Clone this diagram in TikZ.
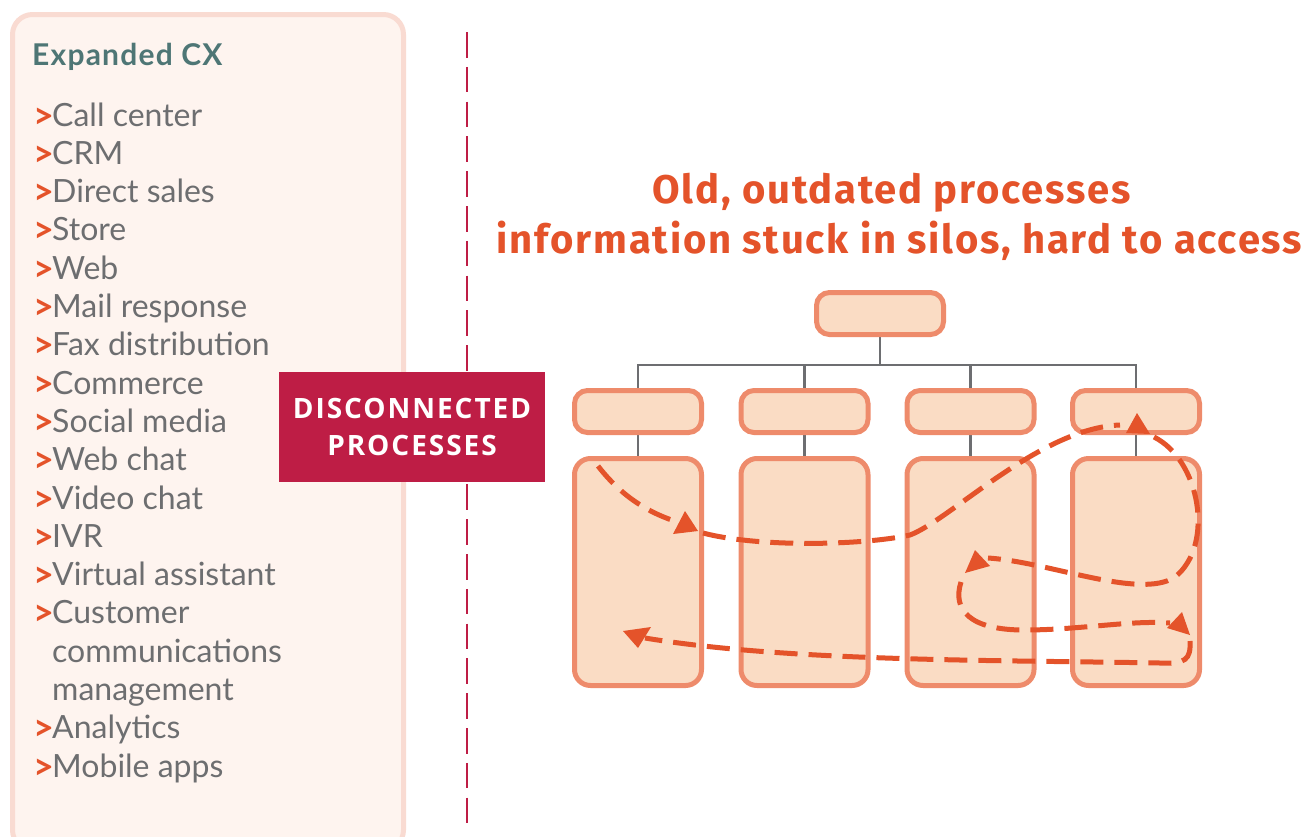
\documentclass[tikz,border=0pt]{standalone}
\usepackage{fontspec}
\setmainfont{Lato}
\newfontfamily\discfont{Open Sans}[LetterSpace=7]
\newfontfamily\titlefont{Fira Sans}[LetterSpace=4.5]
\newfontfamily\cxfont{Lato}[LetterSpace=4]
\usetikzlibrary{backgrounds}
\definecolor{panelfill}{HTML}{FEF4EF}
\definecolor{panelborder}{HTML}{F9DBD2}
\definecolor{titleteal}{HTML}{4E7675}
\definecolor{itemgray}{HTML}{6D6E70}
\definecolor{orangec}{HTML}{E4532A}
\definecolor{crimson}{HTML}{BE1D45}
\definecolor{boxfill}{HTML}{FADCC4}
\definecolor{boxborder}{HTML}{EE8B6B}
\definecolor{conngray}{HTML}{6D6E71}
\tikzset{
  item/.style={anchor=base west, inner sep=0pt, text=itemgray, font=\fontsize{32}{32}\selectfont},
  chev/.style={anchor=base west, inner sep=0pt, text=orangec, font=\fontsize{36}{36}\selectfont\bfseries},
  headbox/.style={draw=boxborder, fill=boxfill, line width=5pt, rounded corners=13pt, minimum width=127pt, minimum height=42pt, inner sep=0pt},
  colbox/.style={draw=boxborder, fill=boxfill, line width=5pt, rounded corners=16pt, minimum width=127pt, minimum height=227pt, inner sep=0pt},
  conn/.style={draw=conngray, line width=2.8pt},
  flow/.style={draw=orangec, line width=5pt, dash pattern=on 23pt off 11pt},
  ahead/.style={fill=orangec},
  bigtitle/.style={anchor=base, inner sep=0pt, text=orangec, font=\titlefont\fontsize{40}{40}\selectfont\bfseries},
}
\begin{document}
\begin{tikzpicture}[x=1pt,y=-1pt]
\useasboundingbox (0,0) rectangle (1314,836);
% left panel
\draw[draw=panelborder, fill=panelfill, line width=5pt, rounded corners=20pt] (12.5,14.5) rectangle (403.5,850);
\node[anchor=base west, inner sep=0pt, text=titleteal, font=\cxfont\fontsize{30}{30}\selectfont\bfseries] (cxtitle) at (32,65) {Expanded CX};
\foreach \t/\c [count=\i from 0] in {Call center/1, CRM/1, Direct sales/1, Store/1, Web/1, Mail response/1, Fax distribution/1, Commerce/1, Social media/1, Web chat/1, Video chat/1, IVR/1, Virtual assistant/1, Customer/1, communications/0, management/0, Analytics/1, Mobile apps/1}{
  \node[item] (it\i) at (52,126+38.3*\i) {\t};
  \ifnum\c=1 \node[chev] (ch\i) at (33,128+38.3*\i) {>};\fi
}
% vertical dashed divider
\coordinate (vtop) at (467,32);
\coordinate (vbot) at (467,823);
\draw[crimson, line width=2.5pt, dash pattern=on 25.5pt off 9.3pt] (vtop) -- (vbot);
% disconnected box
\node[fill=crimson, minimum width=266pt, minimum height=110pt, inner sep=0pt, text=white, align=center, font=\discfont\fontsize{28}{37}\selectfont\bfseries] (disc) at (412,427) {DISCONNECTED\\PROCESSES};
% right title
\node[bigtitle] (t1) at (891.5,203) {Old, outdated processes};
\node[bigtitle] (t2) at (899.5,253) {information stuck in silos, hard to access};
% org chart
\node[headbox] (top) at (880,313.5) {};
\foreach \n/\x in {1/638,2/804.5,3/970.5,4/1136}{
  \node[headbox] (m\n) at (\x,411.5) {};
  \node[colbox] (l\n) at (\x,572) {};
}
\coordinate (bus) at (880,365);
\begin{scope}[on background layer]
  \draw[conn] (top.south) -- (bus);
  \draw[conn] (m1.north) |- (bus) -| (m4.north);
  \draw[conn] (m2.north) -- (m2.north |- bus);
  \draw[conn] (m3.north) -- (m3.north |- bus);
  \foreach \n in {1,...,4}{\draw[conn] (m\n.south) -- (l\n.north);}
\end{scope}
% flow arrows
\coordinate (a1s) at (598,466);
\coordinate (a1e) at (681,523);
\draw[flow] (a1s) .. controls (622,497) and (650,514) .. (a1e);
\fill[ahead] (685,511) -- (673,534) -- (698,531) -- cycle;
\coordinate (a2s) at (703,533);
\coordinate (a2m) at (910,535);
\coordinate (a2e) at (1120,425);
\draw[flow] (a2s) .. controls (760,548) and (865,545) .. (a2m) .. controls (950,520) and (1040,428) .. (a2e);
\fill[ahead] (1137,413) -- (1126,433) -- (1150,434) -- cycle;
\coordinate (bs) at (1154,437);
\coordinate (bm) at (1175,577);
\coordinate (be) at (988,558);
\draw[flow] (bs) .. controls (1200,460) and (1215,545) .. (bm) .. controls (1140,600) and (1050,562) .. (be);
\fill[ahead] (965,573) -- (975,550) -- (990,566) -- cycle;
\coordinate (cs) at (961,582);
\coordinate (cm) at (1024,630);
\coordinate (ce) at (1170,623);
\draw[flow] (cs) .. controls (952,610) and (970,630) .. (cm) .. controls (1080,630) and (1130,620) .. (ce);
\fill[ahead] (1190,635) -- (1182,612) -- (1167,628) -- cycle;
\coordinate (ds) at (1190,641);
\coordinate (dm) at (1160,663);
\coordinate (de) at (645,638);
\draw[flow] (ds) .. controls (1191,660) and (1185,664) .. (dm) .. controls (1000,660) and (790,662) .. (de);
\fill[ahead] (623,631) -- (638,648) -- (651,627) -- cycle;
\end{tikzpicture}
\end{document}
